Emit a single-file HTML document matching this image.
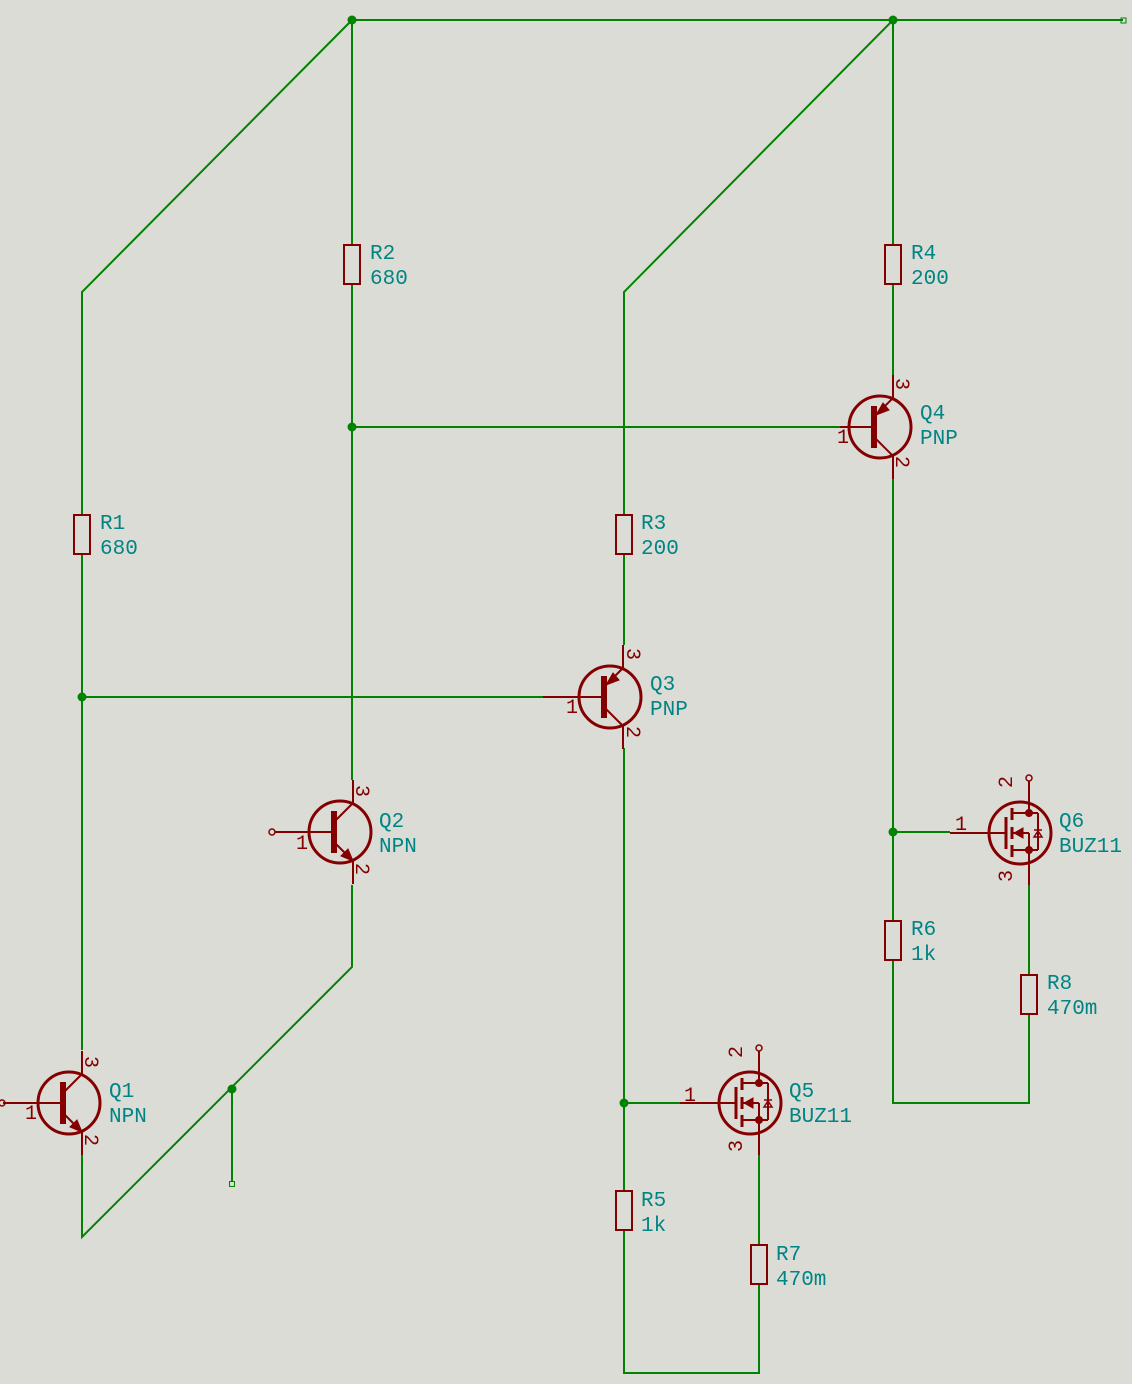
<!DOCTYPE html>
<html><head><meta charset="utf-8"><style>
html,body{margin:0;padding:0;background:#dcdcd6;}
svg{display:block}
text{font-family:"Liberation Mono","DejaVu Sans Mono",monospace;font-size:21px;fill:#008484}
.pn{fill:#840000;font-size:20px}
</style></head><body>
<svg width="1132" height="1384" viewBox="0 0 1132 1384" xmlns="http://www.w3.org/2000/svg">
<rect width="1132" height="1384" fill="#dcdcd6"/>
<g stroke="#008400" stroke-width="2" fill="none">
<polyline points="352,20 1123,20"/>
<polyline points="352,20 82,292 82,515"/>
<polyline points="82,554 82,1050"/>
<polyline points="82,697 545,697"/>
<polyline points="352,20 352,245"/>
<polyline points="352,284 352,780"/>
<polyline points="352,427 840,427"/>
<polyline points="893,20 624,292 624,515"/>
<polyline points="624,554 624,645"/>
<polyline points="893,20 893,245"/>
<polyline points="893,284 893,375"/>
<polyline points="893,478 893,921"/>
<polyline points="893,960 893,1103 1029,1103 1029,1014"/>
<polyline points="1029,975 1029,885"/>
<polyline points="893,832 950,832"/>
<polyline points="624,748 624,1191"/>
<polyline points="624,1103 680,1103"/>
<polyline points="624,1230 624,1373 759,1373 759,1284"/>
<polyline points="759,1245 759,1155"/>
<polyline points="352,885 352,967 82,1237 82,1155"/>
<polyline points="232,1089 232,1182"/>
</g>
<g fill="#008400">
<circle cx="352" cy="20" r="4.5"/><circle cx="893" cy="20" r="4.5"/>
<circle cx="82" cy="697" r="4.5"/><circle cx="352" cy="427" r="4.5"/>
<circle cx="893" cy="832" r="4.5"/><circle cx="624" cy="1103" r="4.5"/>
<circle cx="232" cy="1089" r="4.5"/>
</g>
<rect x="1121" y="18" width="5" height="5" fill="none" stroke="#008400" stroke-width="1"/>
<rect x="229.5" y="1181.5" width="5" height="5" fill="none" stroke="#008400" stroke-width="1"/>

<g stroke="#840000" stroke-width="2" fill="none">
<rect x="344" y="245" width="16" height="39"/>
<rect x="74" y="515" width="16" height="39"/>
<rect x="616" y="515" width="16" height="39"/>
<rect x="885" y="245" width="16" height="39"/>
<rect x="616" y="1191" width="16" height="39"/>
<rect x="885" y="921" width="16" height="39"/>
<rect x="751" y="1245" width="16" height="39"/>
<rect x="1021" y="975" width="16" height="39"/>
</g>

<g transform="translate(69,1103)" stroke="#840000" stroke-width="3" fill="none">
<circle r="31"/>
<line x1="-66" y1="0" x2="-6" y2="0" stroke-width="2"/>
<line x1="-6" y1="-21" x2="-6" y2="21" stroke-width="6"/>
<line x1="-6" y1="-10" x2="13" y2="-29" stroke-width="2"/>
<line x1="13" y1="-29" x2="13" y2="-52" stroke-width="2"/>
<line x1="-6" y1="10" x2="13" y2="29" stroke-width="2"/>
<line x1="13" y1="29" x2="13" y2="52" stroke-width="2"/>
<polygon points="13,29 1,24 8,17" fill="#840000" stroke-width="1"/>
</g>
<circle cx="2" cy="1103" r="3" fill="none" stroke="#840000" stroke-width="1.5"/>
<g transform="translate(340,832)" stroke="#840000" stroke-width="3" fill="none">
<circle r="31"/>
<line x1="-65" y1="0" x2="-6" y2="0" stroke-width="2"/>
<line x1="-6" y1="-21" x2="-6" y2="21" stroke-width="6"/>
<line x1="-6" y1="-10" x2="13" y2="-29" stroke-width="2"/>
<line x1="13" y1="-29" x2="13" y2="-52" stroke-width="2"/>
<line x1="-6" y1="10" x2="13" y2="29" stroke-width="2"/>
<line x1="13" y1="29" x2="13" y2="52" stroke-width="2"/>
<polygon points="13,29 1,24 8,17" fill="#840000" stroke-width="1"/>
</g>
<circle cx="272" cy="832" r="3" fill="none" stroke="#840000" stroke-width="1.5"/>
<g transform="translate(610,697)" stroke="#840000" stroke-width="3" fill="none">
<circle r="31"/>
<line x1="-67" y1="0" x2="-6" y2="0" stroke-width="2"/>
<line x1="-6" y1="-21" x2="-6" y2="21" stroke-width="6"/>
<line x1="-6" y1="-10" x2="13" y2="-29" stroke-width="2"/>
<line x1="13" y1="-29" x2="13" y2="-52" stroke-width="2"/>
<line x1="-6" y1="10" x2="13" y2="29" stroke-width="2"/>
<line x1="13" y1="29" x2="13" y2="52" stroke-width="2"/>
<polygon points="-4,-12 3,-24 9,-17" fill="#840000" stroke-width="1"/>
</g>
<g transform="translate(880,427)" stroke="#840000" stroke-width="3" fill="none">
<circle r="31"/>
<line x1="-40" y1="0" x2="-6" y2="0" stroke-width="2"/>
<line x1="-6" y1="-21" x2="-6" y2="21" stroke-width="6"/>
<line x1="-6" y1="-10" x2="13" y2="-29" stroke-width="2"/>
<line x1="13" y1="-29" x2="13" y2="-52" stroke-width="2"/>
<line x1="-6" y1="10" x2="13" y2="29" stroke-width="2"/>
<line x1="13" y1="29" x2="13" y2="52" stroke-width="2"/>
<polygon points="-4,-12 3,-24 9,-17" fill="#840000" stroke-width="1"/>
</g>

<g transform="translate(750,1103)" stroke="#840000" stroke-width="3" fill="none">
<circle r="31"/>
<line x1="-70" y1="0" x2="-14" y2="0" stroke-width="2"/>
<line x1="-14" y1="-16" x2="-14" y2="16"/>
<line x1="-8" y1="-25" x2="-8" y2="-13"/>
<line x1="-8" y1="-6" x2="-8" y2="6"/>
<line x1="-8" y1="12" x2="-8" y2="24"/>
<line x1="-8" y1="-20" x2="9" y2="-20" stroke-width="2"/>
<line x1="-8" y1="0" x2="9" y2="0" stroke-width="2"/>
<line x1="-8" y1="17" x2="9" y2="17" stroke-width="2"/>
<line x1="9" y1="0" x2="9" y2="17" stroke-width="2"/>
<line x1="9" y1="-20" x2="9" y2="-52" stroke-width="2"/>
<line x1="9" y1="17" x2="9" y2="52" stroke-width="2"/>
<circle cx="9" cy="-55" r="3" stroke-width="1.5"/>
<line x1="9" y1="-20" x2="18" y2="-20" stroke-width="2"/>
<line x1="9" y1="17" x2="18" y2="17" stroke-width="2"/>
<line x1="18" y1="-20" x2="18" y2="17" stroke-width="2"/>
<polygon points="-6,0 3,-5 3,5" fill="#840000" stroke-width="1"/>
<polygon points="14,4 22,4 18,-2" fill="none" stroke-width="1.5"/>
<line x1="14" y1="-3" x2="22" y2="-3" stroke-width="1.5"/>
<circle cx="9" cy="-20" r="3.5" fill="#840000" stroke-width="1"/>
<circle cx="9" cy="17" r="3.5" fill="#840000" stroke-width="1"/>
</g>
<g transform="translate(1020,833)" stroke="#840000" stroke-width="3" fill="none">
<circle r="31"/>
<line x1="-70" y1="0" x2="-14" y2="0" stroke-width="2"/>
<line x1="-14" y1="-16" x2="-14" y2="16"/>
<line x1="-8" y1="-25" x2="-8" y2="-13"/>
<line x1="-8" y1="-6" x2="-8" y2="6"/>
<line x1="-8" y1="12" x2="-8" y2="24"/>
<line x1="-8" y1="-20" x2="9" y2="-20" stroke-width="2"/>
<line x1="-8" y1="0" x2="9" y2="0" stroke-width="2"/>
<line x1="-8" y1="17" x2="9" y2="17" stroke-width="2"/>
<line x1="9" y1="0" x2="9" y2="17" stroke-width="2"/>
<line x1="9" y1="-20" x2="9" y2="-52" stroke-width="2"/>
<line x1="9" y1="17" x2="9" y2="52" stroke-width="2"/>
<circle cx="9" cy="-55" r="3" stroke-width="1.5"/>
<line x1="9" y1="-20" x2="18" y2="-20" stroke-width="2"/>
<line x1="9" y1="17" x2="18" y2="17" stroke-width="2"/>
<line x1="18" y1="-20" x2="18" y2="17" stroke-width="2"/>
<polygon points="-6,0 3,-5 3,5" fill="#840000" stroke-width="1"/>
<polygon points="14,4 22,4 18,-2" fill="none" stroke-width="1.5"/>
<line x1="14" y1="-3" x2="22" y2="-3" stroke-width="1.5"/>
<circle cx="9" cy="-20" r="3.5" fill="#840000" stroke-width="1"/>
<circle cx="9" cy="17" r="3.5" fill="#840000" stroke-width="1"/>
</g>

<text class="pn" x="25" y="1119">1</text>
<text class="pn" transform="translate(85,1056) rotate(90)">3</text>
<text class="pn" transform="translate(85,1134) rotate(90)">2</text>
<text class="pn" x="296" y="849">1</text>
<text class="pn" transform="translate(356,785) rotate(90)">3</text>
<text class="pn" transform="translate(356,863) rotate(90)">2</text>
<text class="pn" x="566" y="713">1</text>
<text class="pn" transform="translate(627,648) rotate(90)">3</text>
<text class="pn" transform="translate(627,726) rotate(90)">2</text>
<text class="pn" x="837" y="443">1</text>
<text class="pn" transform="translate(896,378) rotate(90)">3</text>
<text class="pn" transform="translate(896,456) rotate(90)">2</text>
<text class="pn" x="684" y="1101">1</text>
<text class="pn" transform="translate(742,1058) rotate(-90)">2</text>
<text class="pn" transform="translate(742,1152) rotate(-90)">3</text>
<text class="pn" x="955" y="830">1</text>
<text class="pn" transform="translate(1012,788) rotate(-90)">2</text>
<text class="pn" transform="translate(1012,882) rotate(-90)">3</text>

<text x="370" y="259">R2</text><text x="370" y="284">680</text>
<text x="100" y="529">R1</text><text x="100" y="554">680</text>
<text x="641" y="529">R3</text><text x="641" y="554">200</text>
<text x="911" y="259">R4</text><text x="911" y="284">200</text>
<text x="641" y="1206">R5</text><text x="641" y="1231">1k</text>
<text x="911" y="935">R6</text><text x="911" y="960">1k</text>
<text x="776" y="1260">R7</text><text x="776" y="1285">470m</text>
<text x="1047" y="989">R8</text><text x="1047" y="1014">470m</text>
<text x="109" y="1097">Q1</text><text x="109" y="1122">NPN</text>
<text x="379" y="827">Q2</text><text x="379" y="852">NPN</text>
<text x="650" y="690">Q3</text><text x="650" y="715">PNP</text>
<text x="920" y="419">Q4</text><text x="920" y="444">PNP</text>
<text x="789" y="1097">Q5</text><text x="789" y="1122">BUZ11</text>
<text x="1059" y="827">Q6</text><text x="1059" y="852">BUZ11</text>
</svg>
</body></html>
